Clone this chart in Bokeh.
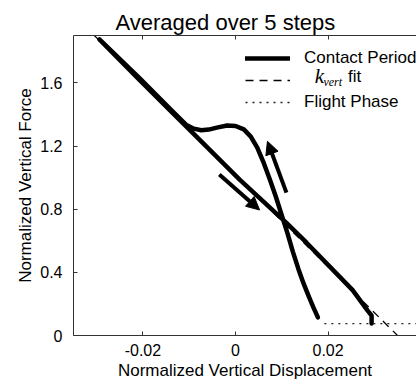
from bokeh.plotting import figure
from bokeh.models import (Range1d, LinearAxis, FixedTicker, Legend, LegendItem,
                          Label, Arrow, NormalHead, ColumnDataSource)
from bokeh.embed import file_html
from bokeh.resources import INLINE

# ---------------- data ----------------
title_text = "Averaged over 5 steps"
x_label = "Normalized Vertical Displacement"
y_label = "Normalized Vertical Force"
x_ticks = [-0.02, 0.0, 0.02]
x_tick_labels = ["-0.02", "0", "0.02"]
y_ticks = [0.0, 0.4, 0.8, 1.2, 1.6]
y_tick_labels = ["0", "0.4", "0.8", "1.2", "1.6"]

# contact period: loading branch (bottom -> hump -> top-left), then unloading along the line
contact_x = [0.0178, 0.0168, 0.0158, 0.0147, 0.0136, 0.0124, 0.0112, 0.0100, 0.0087,
             0.0074, 0.0060, 0.0047, 0.0033, 0.0018, 0.0000, -0.0018, -0.0038, -0.0058,
             -0.0074, -0.0090, -0.0107, -0.0136, -0.0208, -0.0294,
             -0.0208, -0.0136, 0.0009, 0.0110, 0.0154, 0.0253, 0.0285, 0.0294, 0.0294]
contact_y = [0.115, 0.18, 0.25, 0.33, 0.42, 0.53, 0.65, 0.76, 0.88,
             0.99, 1.10, 1.19, 1.26, 1.305, 1.327, 1.33, 1.318, 1.304,
             1.30, 1.31, 1.335, 1.42, 1.632, 1.875,
             1.62, 1.41, 0.987, 0.713, 0.586, 0.287, 0.159, 0.127, 0.076]

fit_x = [-0.0305, 0.035]
fit_y = [1.90, 0.0]

flight_x = [0.0192, 0.040]
flight_y = [0.075, 0.075]

arrow_x0 = [-0.0035, 0.0110]
arrow_y0 = [1.02, 0.905]
arrow_x1 = [0.0052, 0.0069]
arrow_y1 = [0.795, 1.23]

legend_labels = ["Contact Period", " ", "Flight Phase"]
kvert_main = "k"
kvert_sub = "vert"
kvert_tail = "fit"

FONT = "Liberation Sans"
AX = "#333333"

p = figure(width=416, height=382,
           x_range=Range1d(-0.035, 0.0391), y_range=Range1d(0, 1.9),
           output_backend="svg", toolbar_location=None,
           min_border_left=73, min_border_right=0, min_border_top=35, min_border_bottom=0)
p.grid.visible = False
p.outline_line_color = None
p.background_fill_color = "white"
p.border_fill_color = "white"

# title
p.title.text = title_text
p.title.align = "left"
p.title.offset = 42
p.title.text_font = FONT
p.title.text_font_size = "22px"
p.title.text_font_style = "normal"
p.title.text_color = "black"
p.title.standoff = 2

# bottom axis
xa = p.xaxis[0]
xa.ticker = FixedTicker(ticks=x_ticks)
xa.major_label_overrides = dict(zip(x_ticks, x_tick_labels))
xa.axis_label = x_label
# left axis
ya = p.yaxis[0]
ya.ticker = FixedTicker(ticks=y_ticks)
ya.major_label_overrides = dict(zip(y_ticks, y_tick_labels))
ya.axis_label = y_label

for ax in (xa, ya):
    ax.axis_line_color = AX
    ax.major_tick_line_color = AX
    ax.major_tick_in = 4
    ax.major_tick_out = 0
    ax.minor_tick_in = 0
    ax.minor_tick_out = 0
    ax.major_label_text_font = FONT
    ax.major_label_text_font_size = "16px"
    ax.major_label_text_color = "black"
    ax.axis_label_text_font = FONT
    ax.axis_label_text_font_size = "17px"
    ax.axis_label_text_font_style = "normal"
    ax.axis_label_text_color = "black"
xa.major_label_standoff = 8
xa.axis_label_standoff = 2
ya.major_label_standoff = 11
ya.axis_label_standoff = 2

top = LinearAxis(ticker=FixedTicker(ticks=x_ticks),
                 major_label_overrides={t: " " for t in x_ticks},
                 major_label_text_font_size="1px", major_label_text_alpha=0,
                 major_label_standoff=0,
                 major_tick_in=4, major_tick_out=0, minor_tick_in=0, minor_tick_out=0,
                 axis_line_color=AX, major_tick_line_color=AX)
p.add_layout(top, "above")

# data lines
r_contact = p.line(contact_x, contact_y, line_color="black", line_width=4.5,
                   line_join="round", line_cap="round")
r_fit = p.line(fit_x, fit_y, line_color="black", line_width=1.3, line_dash="8 6")
r_flight = p.line(flight_x, flight_y, line_color="#222222", line_width=1.3, line_dash="2 5")

arrows = ColumnDataSource(dict(x0=arrow_x0, y0=arrow_y0, x1=arrow_x1, y1=arrow_y1))
p.add_layout(Arrow(source=arrows, x_start="x0", y_start="y0", x_end="x1", y_end="y1",
                   line_width=4, line_color="black",
                   end=NormalHead(size=13, fill_color="black", line_color="black", line_width=1)))

legend = Legend(items=[LegendItem(label=legend_labels[0], renderers=[r_contact]),
                       LegendItem(label=legend_labels[1], renderers=[r_fit]),
                       LegendItem(label=legend_labels[2], renderers=[r_flight])],
                location=(172, 223), border_line_color=None, background_fill_alpha=0,
                padding=0, margin=0, glyph_width=45, glyph_height=20, label_height=20,
                label_standoff=14, spacing=2,
                label_text_font=FONT, label_text_font_size="17px", label_text_color="black")
p.add_layout(legend)

p.add_layout(Label(x=0.0171, y=1.645, text=kvert_main, text_font="Liberation Serif",
                   text_font_style="italic", text_font_size="21px", text_baseline="middle",
                   text_align="left", text_color="black"))
p.add_layout(Label(x=0.0190, y=1.608, text=kvert_sub, text_font="Liberation Serif",
                   text_font_style="italic", text_font_size="12px", text_baseline="middle",
                   text_align="left", text_color="black"))
p.add_layout(Label(x=0.0243, y=1.639, text=kvert_tail, text_font=FONT,
                   text_font_size="17px", text_baseline="middle",
                   text_align="left", text_color="black"))

open("out.html", "w").write(file_html(p, INLINE))
